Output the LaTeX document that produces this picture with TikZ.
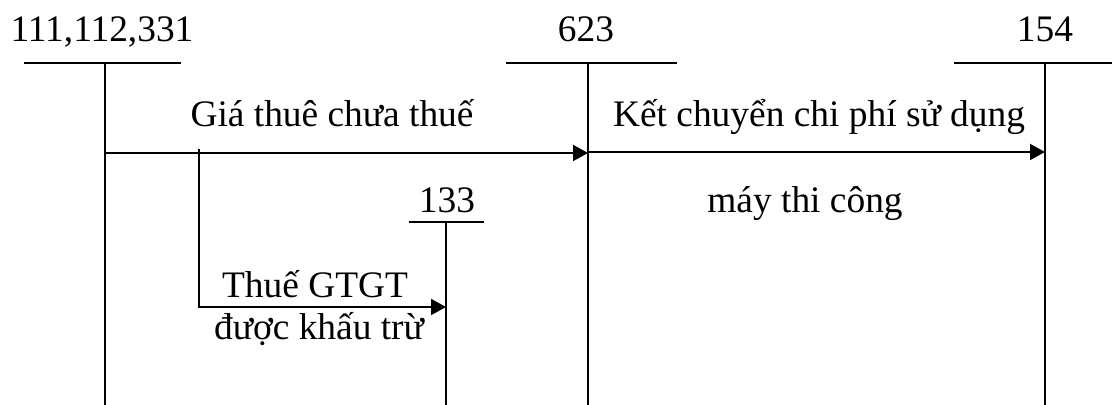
\documentclass[tikz,border=0pt]{standalone}
\usepackage{fontspec}
\setmainfont{Liberation Serif}
\usetikzlibrary{arrows.meta,positioning}

\begin{document}
\begin{tikzpicture}[x=0.5pt,y=-0.5pt,line width=1pt,
    txt/.style={font=\fontsize{18.7}{21}\selectfont,anchor=base,inner sep=0pt},
    post/.style={-{Triangle[length=7.5pt,width=8pt]}}]
\useasboundingbox (0,0) rectangle (1112,405);

% T accounts: name / number / label x / label base / left / right / axis / top
\foreach \name/\num/\lx/\ly/\l/\r/\ax/\top in
    {TK111/{111,112,331}/102/42/24/181/105/63,
     TK623/623/586/42/506/677/588/63,
     TK154/154/1045/42/954/1112/1045/63,
     TK133/133/447/213/409/484/446/222}
{
    \node[txt] (N\name) at (\lx,\ly) {\num};
    \coordinate (\name) at (\ax,\top);
    \draw (\l,\top) -- (\r,\top);
    \draw (\name) -- (\ax,405);
}

\coordinate (r1) at (0,153);
\coordinate (r2) at (0,307);
\coordinate (r3) at (0,152);
\coordinate (split) at (199,149);

% postings
\draw[post] (TK111 |- r1) -- (TK623 |- r1);
\draw[post] (split) |- (TK133 |- r2);
\draw[post] (TK623 |- r3) -- (TK154 |- r3);

\node[txt] (rent) at (332,127) {Giá thuê chưa thuế};
\node[txt] (move1) at (819,127) {Kết chuyển chi phí sử dụng};
\node[txt] (move2) at (805,213) {máy thi công};
\node[txt] (vat1) at (315,298) {Thuế GTGT};
\node[txt] (vat2) at (319,340) {được khấu trừ};
\end{tikzpicture}
\end{document}
